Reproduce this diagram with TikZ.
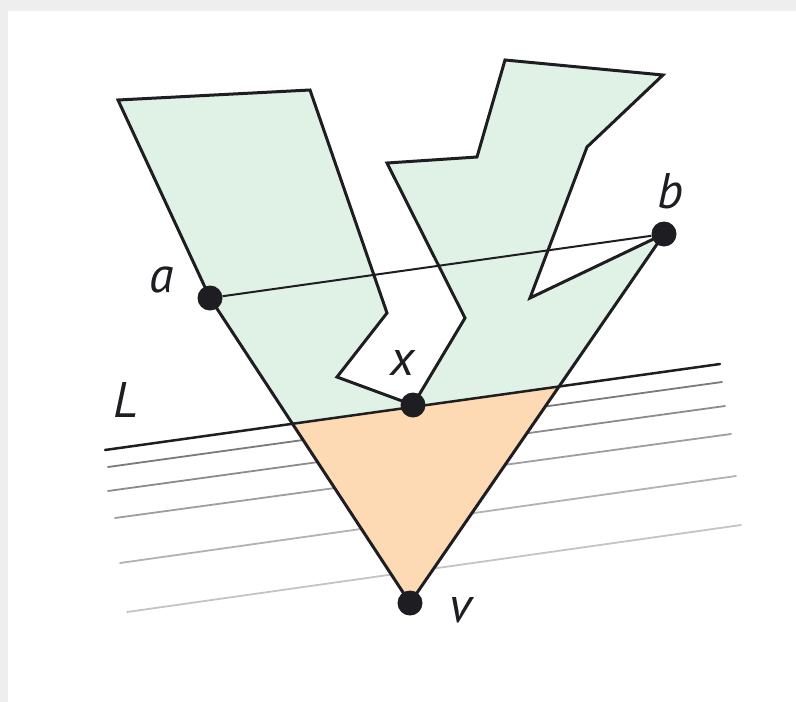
\documentclass[tikz,border=0pt]{standalone}
\usepackage{fontspec}
\setmainfont{PT Sans}
\definecolor{polygreen}{HTML}{E0F1E5}
\definecolor{polyorange}{HTML}{FDDAB3}
\definecolor{frame}{HTML}{EEEEEE}
\definecolor{ink}{HTML}{1E1E22}
\begin{document}
\begin{tikzpicture}[x=1pt,y=-1pt,
  outline/.style={draw=ink,line width=3pt,line join=miter},
  sweep/.style={line width=1.8pt,line cap=round},
  dot/.style={circle,fill=ink,inner sep=0pt,minimum size=25pt},
  lab/.style={text=ink,font=\fontsize{50}{60}\selectfont\itshape,inner sep=0pt}]
\fill[frame] (0,0) rectangle (796,702);
\fill[white] (8,11) rectangle (796,702);
\useasboundingbox (0,0) rectangle (796,702);
% key points
\coordinate (A) at (210,298);
\coordinate (B) at (664,234);
\coordinate (X) at (413,405);
\coordinate (V) at (410,603);
\coordinate (L1) at (105,450);
\coordinate (L2) at (720,364);
% family of parallel lines below L
\draw[sweep,draw=black!52] (108,467) -- (722,382);
\draw[sweep,draw=black!45] (108,491) -- (725,406);
\draw[sweep,draw=black!38] (115,518) -- (731,434);
\draw[sweep,draw=black!30] (120,563) -- (736,476);
\draw[sweep,draw=black!23] (127,612) -- (741,525);
% polygon
\fill[polygreen] (118,100) -- (310,90) -- (387,313) -- (337,377) -- (X) -- (465,318) -- (387,163) -- (477,157) -- (505,60) -- (663,75) -- (587,147) -- (530,298) -- (B) -- (V) -- (A) -- cycle;
\fill[polyorange] (intersection of A--V and L1--L2) -- (intersection of B--V and L1--L2) -- (V) -- cycle;
\draw[outline] (118,100) -- (310,90) -- (387,313) -- (337,377) -- (X) -- (465,318) -- (387,163) -- (477,157) -- (505,60) -- (663,75) -- (587,147) -- (530,298) -- (B) -- (V) -- (A) -- cycle;
% line L
\draw[line width=2.5pt,draw=ink,line cap=round] (L1) -- (L2);
% points
\node[dot] (a) at (A) {};
\node[dot] (b) at (B) {};
\node[dot] (x) at (X) {};
\node[dot] (v) at (V) {};
\draw[line width=2pt,draw=ink] (a) -- (b);
% labels
\node[lab] (la) at (162,280) {a};
\node[lab] (lb) at (671,191) {b};
\node[lab] (lx) at (403,363) {x};
\node[lab] (lv) at (461,610) {v};
\node[lab] (lL) at (126,400) {L};
\end{tikzpicture}
\end{document}
